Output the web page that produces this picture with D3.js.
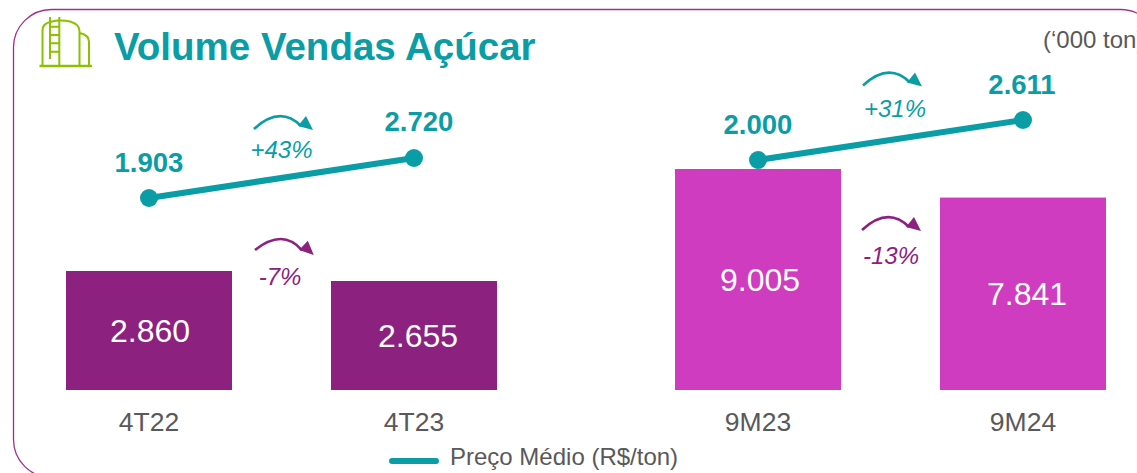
<!DOCTYPE html>
<html lang="pt">
<head>
<meta charset="utf-8">
<script src="https://cdn.jsdelivr.net/npm/d3@7"></script>
<style>
html,body{margin:0;padding:0;background:#fff;overflow:hidden}
svg{display:block;font-family:"Liberation Sans",Arial,sans-serif}
</style>
</head>
<body>
<svg id="c" width="1137" height="473"></svg>
<script>
const periods = ["4T22", "4T23", "9M23", "9M24"];
const groups = ["4T", "4T", "9M", "9M"];
const volumes = [2860, 2655, 9005, 7841];
const volumeLabels = ["2.860", "2.655", "9.005", "7.841"];
const prices = [1903, 2720, 2000, 2611];
const priceLabels = ["1.903", "2.720", "2.000", "2.611"];
const changes = ["+43%", "-7%", "+31%", "-13%"];
const titleText = "Volume Vendas Açúcar";
const unitText = "(‘000 ton)";
const legendText = "Preço Médio (R$/ton)";

const TEAL = "#0a9da6", PURPLE = "#8c2180", MAGENTA = "#d03cc0", GREY = "#595959", GREEN = "#8cc000", FRAME = "#a0308f";
const svg = d3.select("#c");

// frame
svg.append("rect").attr("x", 13.5).attr("y", 9.5).attr("width", 1145).attr("height", 468)
  .attr("rx", 38).attr("ry", 38).attr("fill", "none").attr("stroke", FRAME).attr("stroke-width", 1.3);

// icon
const icon = svg.append("g").attr("fill", "none").attr("stroke", GREEN).attr("stroke-width", 2);
icon.append("path").attr("stroke-width", 2.4).attr("d", "M39.5 66H92");
icon.append("path").attr("d", "M42.5 66V30Q42.5 24 50 22Q60 19.5 70 21.5Q79.5 24 79.5 31V66M80 33Q89 35 89 42V66");
icon.append("path").attr("d", "M50 17V59M59.3 17V66M50 26.7H59.3M50 35H59.3M50 43.3H59.3M50 51.7H59.3");

// title + unit
svg.append("text").attr("x", 114).attr("y", 60).attr("font-size", 38.5).attr("font-weight", 700).attr("fill", TEAL).text(titleText);
svg.append("text").attr("x", 1043).attr("y", 48).attr("font-size", 24).attr("fill", GREY).text(unitText);

// scales
const groupNames = ["4T", "9M"];
const x0 = d3.scaleBand().domain(groupNames).range([16.5, 1234.5]);
const pad = 1 - 166 / 265;
const x1 = d3.scaleBand().domain([0, 1]).range([0, 530]).paddingInner(pad).paddingOuter(pad / 2);
const xOf = i => x0(groups[i]) + x1(i % 2);
const cx = i => xOf(i) + x1.bandwidth() / 2;
const yVol = {
  "4T": d3.scaleLinear().domain([420, 2860]).range([390, 271]),
  "9M": d3.scaleLinear().domain([0, 9005]).range([390, 169])
};
const yPrice = {
  "4T": d3.scaleLinear().domain([1903, 2720]).range([198, 158]),
  "9M": d3.scaleLinear().domain([2000, 2611]).range([160, 120])
};

// bars
const barLabelShift = [1, 4, 2, 4];
const priceLabelShift = [0, 5, 0, -1];
const priceLabelLift = [26, 27, 26, 26];
volumes.forEach((v, i) => {
  const g = groups[i], y = yVol[g], base = y.range()[0];
  svg.append("rect").attr("x", xOf(i)).attr("y", y(v)).attr("width", x1.bandwidth()).attr("height", base - y(v))
    .attr("fill", g === "4T" ? PURPLE : MAGENTA);
  svg.append("text").attr("x", cx(i) + barLabelShift[i]).attr("y", (y(v) + base) / 2 + 11.5)
    .attr("text-anchor", "middle").attr("font-size", 32).attr("fill", "#fff").text(volumeLabels[i]);
  svg.append("text").attr("x", cx(i)).attr("y", 430.5).attr("text-anchor", "middle")
    .attr("font-size", 26.5).attr("fill", GREY).text(periods[i]);
});

// price lines
groupNames.forEach(g => {
  const idx = d3.range(4).filter(i => groups[i] === g);
  svg.append("path").attr("fill", "none").attr("stroke", TEAL).attr("stroke-width", 6)
    .attr("d", d3.line().x(cx).y(i => yPrice[g](prices[i]))(idx));
  idx.forEach(i => {
    svg.append("circle").attr("cx", cx(i)).attr("cy", yPrice[g](prices[i])).attr("r", 9).attr("fill", TEAL);
    svg.append("text").attr("x", cx(i) + priceLabelShift[i]).attr("y", yPrice[g](prices[i]) - priceLabelLift[i])
      .attr("text-anchor", "middle").attr("font-size", 27.5).attr("font-weight", 700).attr("fill", TEAL).text(priceLabels[i]);
  });
});

// change arrows: [start x, start y, rotation, colour, label x, label y]
const arrowAnchors = [
  [254, 129, 0, TEAL, 281.5, 157.5],
  [255, 250, 4, PURPLE, 280, 284.5],
  [863, 85.5, 0, TEAL, 895, 117],
  [862, 230, 0, PURPLE, 891, 263.5]
];
arrowAnchors.forEach(([ax, ay, rot, col, lx, ly], i) => {
  const a = svg.append("g").attr("transform", `translate(${ax},${ay}) rotate(${rot})`);
  a.append("path").attr("fill", "none").attr("stroke", col).attr("stroke-width", 2.6)
    .attr("d", "M0 0Q26 -24 47 -3");
  a.append("path").attr("fill", col).attr("d", "M59 1L44 -3L52 -13Z");
  svg.append("text").attr("x", lx).attr("y", ly).attr("text-anchor", "middle").attr("font-size", 24)
    .attr("font-style", "italic").attr("fill", col).text(changes[i]);
});

// legend
svg.append("line").attr("x1", 392).attr("x2", 436).attr("y1", 461).attr("y2", 461)
  .attr("stroke", TEAL).attr("stroke-width", 6).attr("stroke-linecap", "round");
svg.append("text").attr("x", 450).attr("y", 465).attr("font-size", 24).attr("fill", GREY).text(legendText);
</script>
</body>
</html>
